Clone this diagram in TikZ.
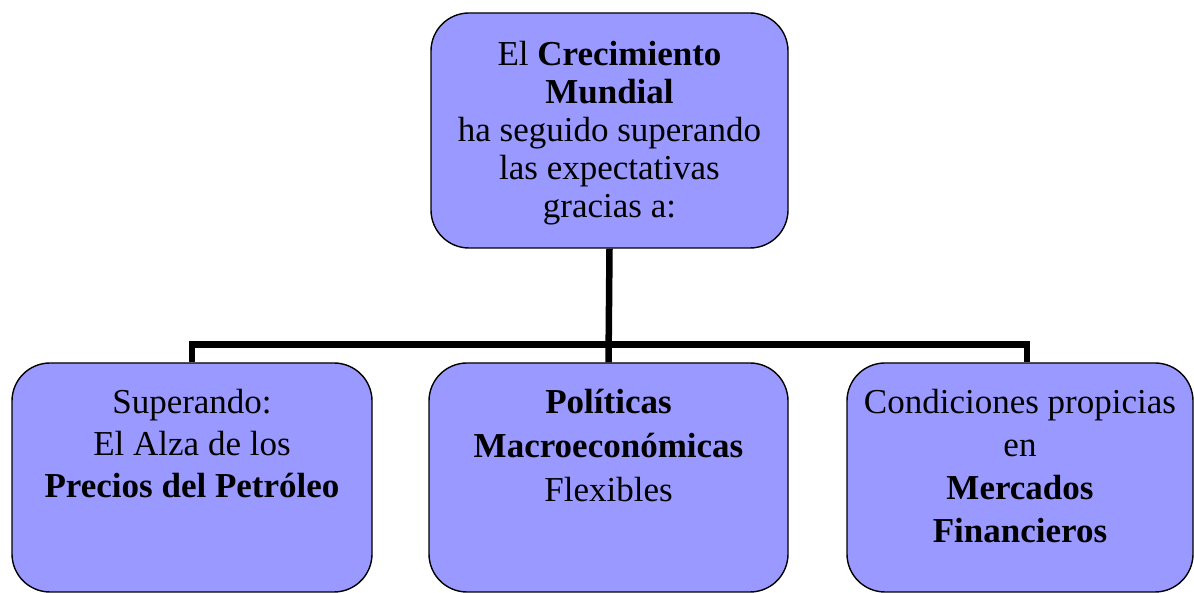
\documentclass[tikz,border=0pt]{standalone}
\usepackage{fontspec}
\setmainfont{Liberation Serif}
\definecolor{lila}{RGB}{153,153,255}
\tikzset{
  caja/.style={draw=black, line width=1.4pt, fill=lila, rounded corners=38pt, inner sep=0pt},
  enlace/.style={line width=6.5pt, black}
}
\newcommand{\textocaja}[4]{\parbox[c][#1][t]{#2}{\centering\fontsize{35}{#3}\selectfont #4}}
\begin{document}
\begin{tikzpicture}[x=1pt,y=1pt,line join=miter]
                \useasboundingbox (0,0) rectangle (1194,593);
                \node[caja, minimum width=357pt, minimum height=235pt] (crec) at (609.5,462.5)
                {\textocaja{179pt}{350pt}{38pt}{El \textbf{Crecimiento}\\ \textbf{Mundial}\\ ha seguido superando\\ las expectativas\\ gracias a:}};
                \node[caja, minimum width=360pt, minimum height=229pt] (petro) at (192,115.5)
                {\textocaja{177pt}{350pt}{42pt}{Superando:\\ El Alza de los\\ \textbf{Precios del Petróleo}}};
                \node[caja, minimum width=359pt, minimum height=229pt] (polit) at (608.5,115.5)
                {\textocaja{177pt}{350pt}{44pt}{\textbf{Políticas}\\ \textbf{Macroeconómicas}\\ Flexibles}};
                \node[caja, minimum width=346pt, minimum height=229pt] (merc) at (1020,115.5)
                {\textocaja{177pt}{340pt}{43pt}{Condiciones propicias\\ en\\ \textbf{Mercados}\\ \textbf{Financieros}}};
                \draw[enlace] (crec.south) -- (polit.north);
                \draw[enlace] (petro.north) -- ++(0,18) -| ([xshift=7pt]merc.north);
            \end{tikzpicture}
\end{document}
